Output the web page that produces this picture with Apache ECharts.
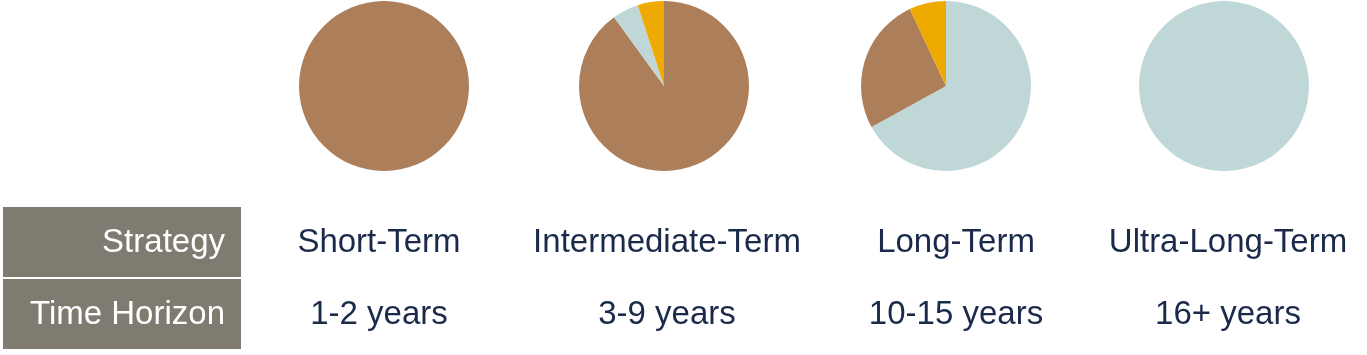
<!DOCTYPE html>
<html>
<head>
<meta charset="utf-8">
<script src="https://cdn.jsdelivr.net/npm/echarts@6/dist/echarts.min.js"></script>
<style>
  html, body { margin: 0; padding: 0; background: #fff; }
  #chart-container { width: 1367px; height: 355px; }
</style>
</head>
<body>
<div id="chart-container"></div>
<script>
let dom = document.getElementById('chart-container');
let myChart = echarts.init(dom, null, { renderer: 'canvas' });

// asset mix names and colours
const sliceNames = ['Brown', 'Blue', 'Gold'];
const sliceColors = ['#ad7e5a', '#c0d7d8', '#eeaa00'];

// one entry per strategy column
const strategies = ['Short-Term', 'Intermediate-Term', 'Long-Term', 'Ultra-Long-Term'];
const horizons = ['1-2 years', '3-9 years', '10-15 years', '16+ years'];
const brownShare = [100, 90, 26, 0];
const blueShare = [0, 5, 67, 100];
const goldShare = [0, 5, 7, 0];

const rowLabels = ['Strategy', 'Time Horizon'];

const centersX = [384, 664, 946, 1224];
const textX = [379, 667, 956, 1228];
const centerY = 86;
const textColor = '#1b2a4a';
const font = 'Liberation Sans, Arial, sans-serif';
const fontSize = 33;

let series = strategies.map(function (name, i) {
	let data = [
		{ name: sliceNames[0], value: brownShare[i], itemStyle: { color: sliceColors[0] } },
		{ name: sliceNames[1], value: blueShare[i], itemStyle: { color: sliceColors[1] } },
		{ name: sliceNames[2], value: goldShare[i], itemStyle: { color: sliceColors[2] } },
	];
	// largest slice first, clockwise from the top
	data.sort(function (a, b) { return b.value - a.value; });
	return {
		name: name,
		type: 'pie',
		center: [centersX[i], centerY],
		radius: 85,
		startAngle: 90,
		clockwise: true,
		silent: true,
		label: { show: false },
		labelLine: { show: false },
		itemStyle: { borderWidth: 0 },
		data: data,
	};
});

let graphics = [
	{ type: 'rect', shape: { x: 3, y: 207, width: 238, height: 70 }, style: { fill: '#807b70' } },
	{ type: 'rect', shape: { x: 3, y: 279, width: 238, height: 70 }, style: { fill: '#807b70' } },
	{
		type: 'text', x: 225, y: 243,
		style: { text: rowLabels[0], fill: '#fff', font: fontSize + 'px ' + font, textAlign: 'right', textVerticalAlign: 'middle' },
	},
	{
		type: 'text', x: 225, y: 315,
		style: { text: rowLabels[1], fill: '#fff', font: fontSize + 'px ' + font, textAlign: 'right', textVerticalAlign: 'middle' },
	},
];
strategies.forEach(function (name, i) {
	graphics.push({
		type: 'text', x: textX[i], y: 243,
		style: { text: name, fill: textColor, font: fontSize + 'px ' + font, textAlign: 'center', textVerticalAlign: 'middle' },
	});
	graphics.push({
		type: 'text', x: textX[i], y: 315,
		style: { text: horizons[i], fill: textColor, font: fontSize + 'px ' + font, textAlign: 'center', textVerticalAlign: 'middle' },
	});
});

myChart.setOption({
	animation: false,
	series: series,
	graphic: graphics,
});

window.addEventListener('resize', myChart.resize);
</script>
</body>
</html>
